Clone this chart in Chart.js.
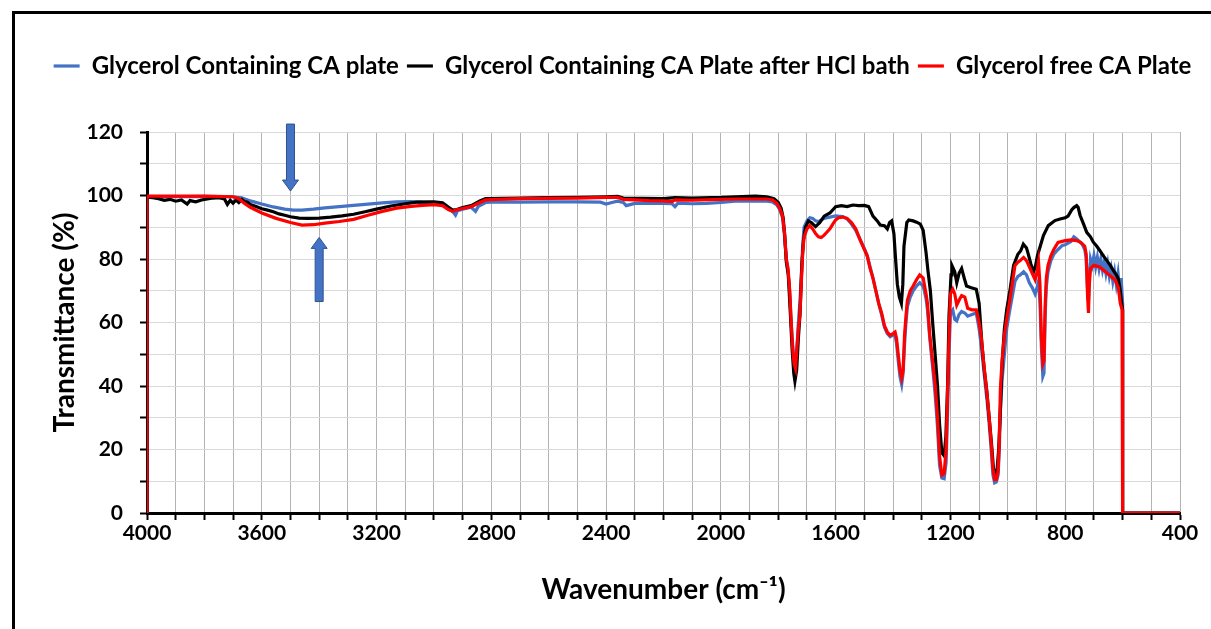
<!DOCTYPE html>
<html>
<head>
<meta charset="utf-8">
<script src="https://cdn.jsdelivr.net/npm/chart.js@4"></script>
<style>
  html, body { margin: 0; padding: 0; background: #fff; overflow: hidden; }
  #frame { position: absolute; left: 12px; top: 11px; width: 1400px; height: 800px; border: 3px solid #000; }
  #chart { position: absolute; left: 0; top: 0; }
</style>
</head>
<body>
<div id="frame"></div>
<canvas id="chart" width="1211" height="629"></canvas>
<script>
// series labels
var seriesNames = ['Glycerol Containing CA plate', 'Glycerol Containing CA Plate after HCl bath', 'Glycerol free CA Plate'];

// Glycerol containing CA plate (blue)
var glycerolWn = [4000, 4000, 3900, 3800, 3700, 3670, 3640, 3600, 3560, 3520, 3490, 3460, 3420, 3380, 3330, 3280, 3230, 3180, 3130, 3080, 3040, 3000, 2970, 2950, 2935, 2925, 2918, 2900, 2870, 2855, 2845, 2820, 2780, 2700, 2600, 2500, 2420, 2400, 2380, 2360, 2340, 2330, 2300, 2250, 2200, 2170, 2160, 2150, 2100, 2050, 2000, 1950, 1880, 1840, 1820, 1805, 1795, 1785, 1778, 1772, 1766, 1760, 1755, 1750, 1745, 1740, 1735, 1730, 1725, 1720, 1715, 1710, 1700, 1690, 1680, 1670, 1660, 1650, 1640, 1630, 1620, 1600, 1590, 1575, 1560, 1545, 1530, 1515, 1500, 1490, 1480, 1470, 1460, 1450, 1440, 1430, 1420, 1410, 1400, 1393, 1388, 1382, 1376, 1370, 1365, 1360, 1355, 1350, 1340, 1330, 1318, 1307, 1295, 1285, 1280, 1272, 1260, 1253, 1245, 1238, 1230, 1222, 1215, 1210, 1205, 1200, 1192, 1185, 1178, 1170, 1161, 1150, 1140, 1125, 1110, 1100, 1092, 1085, 1078, 1072, 1065, 1058, 1052, 1046, 1040, 1034, 1030, 1026, 1020, 1012, 1004, 995, 985, 975, 965, 957, 945, 935, 925, 915, 905, 898, 893, 888, 883, 878, 874, 870, 866, 860, 850, 840, 825, 810, 800, 790, 780, 770, 760, 750, 740, 732, 727, 722, 719, 716, 712, 706, 700, 694, 688, 682, 676, 670, 664, 658, 652, 646, 640, 634, 628, 622, 616, 610, 605, 600, 600, 400];
var glycerolT = [0, 99.6, 99.6, 99.7, 99.6, 99.3, 98.3, 97.3, 96.4, 95.7, 95.4, 95.4, 95.7, 96.1, 96.5, 96.9, 97.3, 97.7, 98, 98.1, 97.9, 97.8, 97.4, 96, 95, 93.8, 95.2, 95.7, 96.3, 95, 96.6, 97.8, 98, 97.9, 98, 98, 97.9, 97.3, 97.8, 98.2, 97.8, 96.8, 97.5, 97.6, 97.5, 97.4, 96.5, 97.6, 97.4, 97.5, 97.8, 98.2, 98.3, 98.2, 98, 97, 95.5, 93, 87, 80, 76, 69, 60, 53, 48, 46, 52, 60, 66, 74, 84, 90, 92, 93, 92.8, 92, 91.8, 92.3, 92.8, 93, 93.2, 93.6, 93.5, 93.4, 92.6, 91, 89, 86.2, 83.3, 81, 77.5, 74, 70, 66, 62.5, 58.5, 56.5, 55.5, 56, 56, 53.5, 48, 43, 40.5, 44, 53, 60, 65, 68, 70, 71.5, 72.5, 71.5, 67.5, 64, 55, 44, 37, 27, 15, 11, 10.8, 16, 32, 50, 63, 64, 61, 60.5, 62.5, 63.5, 63, 62, 62.5, 63, 58, 52, 46, 40, 35, 28, 20, 12, 9.5, 9.8, 12, 19, 32, 42, 50, 58, 63, 68, 73, 74.5, 75, 76, 75, 72.5, 71, 69, 71, 73, 66, 52, 43, 44, 62, 71, 76, 79.5, 81.5, 83, 84.3, 84.5, 85, 85.5, 87, 86.3, 85.5, 84.5, 83, 80.5, 70, 67, 74, 80, 78, 81, 77.5, 80.5, 77, 80, 76.5, 79, 75.5, 78.5, 74.5, 77, 73, 76, 72, 75.5, 70, 74, 66, 0, 0];

// Glycerol containing CA plate after HCl bath (black)
var hclWn = [4000, 4000, 3980, 3960, 3940, 3920, 3900, 3880, 3860, 3850, 3830, 3810, 3790, 3770, 3750, 3730, 3720, 3710, 3700, 3690, 3680, 3670, 3660, 3650, 3640, 3620, 3600, 3580, 3560, 3540, 3520, 3500, 3470, 3440, 3400, 3360, 3320, 3280, 3240, 3200, 3150, 3100, 3060, 3000, 2970, 2950, 2935, 2920, 2900, 2870, 2840, 2820, 2700, 2600, 2500, 2400, 2360, 2340, 2200, 2160, 2100, 2000, 1950, 1880, 1840, 1815, 1800, 1790, 1783, 1778, 1772, 1765, 1758, 1752, 1746, 1742, 1736, 1730, 1724, 1718, 1712, 1705, 1695, 1685, 1670, 1655, 1640, 1620, 1600, 1580, 1560, 1540, 1520, 1500, 1485, 1470, 1455, 1445, 1430, 1420, 1412, 1405, 1397, 1392, 1385, 1378, 1371, 1366, 1362, 1352, 1345, 1330, 1318, 1305, 1295, 1285, 1278, 1270, 1262, 1253, 1245, 1238, 1230, 1222, 1216, 1210, 1205, 1198, 1195, 1185, 1178, 1170, 1161, 1152, 1144, 1130, 1110, 1100, 1091, 1082, 1074, 1066, 1057, 1050, 1045, 1038, 1032, 1027, 1020, 1012, 1004, 992, 980, 965, 955, 946, 935, 929, 920, 911, 903, 897, 892, 876, 859, 836, 818, 800, 790, 777, 770, 760, 755, 748, 736, 725, 712, 702, 690, 679, 667, 655, 643, 632, 622, 615, 608, 603, 600, 600, 400];
var hclT = [0, 99.5, 99.3, 99, 98.5, 98.8, 98.2, 98.6, 97.3, 98.4, 98, 98.6, 98.9, 99.2, 99.3, 98.9, 97.2, 98.5, 97.6, 98.6, 97.8, 98.8, 98.1, 97.9, 97.2, 96.5, 95.8, 95.4, 94.9, 94.2, 93.8, 93.3, 92.9, 92.8, 92.9, 93.2, 93.6, 94.1, 94.9, 95.7, 96.7, 97.4, 97.9, 98, 97.7, 96.4, 95.4, 95.6, 96.2, 96.8, 98.3, 99, 99.2, 99.3, 99.4, 99.6, 99.7, 99.2, 99, 99.3, 99.2, 99.4, 99.6, 99.8, 99.6, 99, 97.8, 96, 93, 88, 79, 75, 63, 52, 44, 41.5, 45, 55, 63, 78, 86, 90, 92, 91.5, 90.2, 91.5, 93.5, 94.5, 96.5, 96.8, 96.5, 97, 96.8, 96.9, 96.5, 93.5, 92, 90.7, 90.5, 89.5, 91.5, 92, 88, 81, 72, 68, 66, 72, 84, 91.5, 92.3, 92, 91.6, 91, 89, 82, 76, 70, 60, 49.5, 40, 28, 19, 18, 24, 40, 62, 75, 78, 76, 72.5, 75.5, 77, 74, 71.5, 71, 70.5, 66, 54, 45, 39, 31, 22, 14, 12.5, 13, 20, 30, 47, 58, 64, 70.5, 78, 81.5, 82.6, 84.7, 83.5, 81.6, 78.5, 75.8, 78, 81, 82.5, 87.4, 90.5, 92.1, 92.6, 93, 93.5, 95.5, 96.2, 96.8, 96.3, 93.7, 91, 88.4, 87, 85.3, 84, 82.6, 81, 79.5, 78, 76.3, 75, 73.7, 70, 65.8, 64, 0, 0];

// Glycerol free CA plate (red)
var freeWn = [4000, 4000, 3900, 3800, 3700, 3680, 3660, 3640, 3600, 3550, 3500, 3460, 3420, 3380, 3330, 3280, 3230, 3180, 3130, 3080, 3040, 3000, 2970, 2950, 2935, 2920, 2900, 2870, 2840, 2820, 2780, 2700, 2600, 2500, 2400, 2360, 2340, 2300, 2250, 2200, 2170, 2160, 2100, 2000, 1950, 1880, 1840, 1820, 1805, 1795, 1785, 1778, 1772, 1766, 1760, 1755, 1750, 1745, 1740, 1735, 1730, 1725, 1720, 1715, 1710, 1700, 1690, 1680, 1670, 1660, 1650, 1640, 1630, 1620, 1610, 1600, 1590, 1575, 1560, 1545, 1530, 1515, 1500, 1490, 1480, 1470, 1460, 1450, 1440, 1430, 1420, 1410, 1400, 1393, 1388, 1382, 1376, 1370, 1365, 1360, 1355, 1350, 1340, 1330, 1318, 1307, 1295, 1285, 1280, 1272, 1260, 1253, 1245, 1238, 1230, 1222, 1215, 1210, 1205, 1200, 1192, 1185, 1178, 1170, 1161, 1150, 1140, 1125, 1110, 1100, 1092, 1085, 1078, 1072, 1065, 1058, 1052, 1046, 1040, 1034, 1030, 1026, 1020, 1012, 1004, 995, 985, 975, 965, 957, 945, 935, 925, 915, 905, 898, 893, 888, 883, 878, 874, 870, 866, 860, 850, 840, 825, 800, 780, 760, 745, 732, 727, 722, 719, 716, 712, 700, 680, 660, 640, 625, 615, 608, 602, 600, 600, 400];
var freeT = [0, 99.8, 99.8, 99.8, 99.6, 99, 97.5, 96.3, 94.5, 92.8, 91.5, 90.7, 90.8, 91.3, 91.8, 92.5, 93.8, 95, 96, 96.6, 96.9, 97.1, 96.8, 95.6, 95, 95.5, 95.9, 96.5, 97.8, 98.6, 98.8, 99, 99.1, 99.2, 99.4, 99.4, 98.8, 98.6, 98.4, 98.3, 98.1, 98.6, 98.5, 98.8, 98.9, 98.9, 98.9, 98.6, 97.5, 96, 93.5, 88, 80, 77, 70, 60, 52, 47, 45.5, 52, 58, 62, 72, 82, 87, 89.5, 90.5, 89.5, 88, 87, 86.8, 87.5, 88.5, 89.5, 91, 92.3, 93, 93.2, 92.8, 91.5, 89.5, 86, 83, 81, 77, 74, 70, 66, 63, 59, 57, 56, 56.5, 57, 55, 50, 45, 42.5, 45, 56, 62, 67, 70, 71.5, 73.5, 75, 74, 69, 66, 56, 46, 40, 30, 18, 12, 12.5, 20, 38, 55, 69, 70.5, 69, 65.5, 67, 68.5, 68, 64.5, 64, 64, 60, 55, 48, 42, 37, 30, 22, 14, 10.5, 10.5, 13, 22, 39, 48, 56, 61, 66, 72, 78, 79, 79.5, 80.5, 79.5, 77.5, 75.5, 73.5, 76, 79, 72, 55, 47, 48, 65, 74, 78, 81, 83, 85.2, 85.8, 86, 85.8, 85.2, 84, 81.5, 68, 63, 72, 77, 78, 77.5, 76, 74.5, 73.3, 71, 66, 64, 63.5, 0, 0];

// axis ranges and label steps
var xRange = [400, 4000];
var yRange = [0, 120];
var xLabelStep = 400;
var yLabelStep = 20;

// the two blue arrows pointing at the O-H band (wavenumber, start %, tip %)
var arrowMarks = [
  { wn: 3500, from: 122.5, to: 101.4 },
  { wn: 3400, from: 66.6, to: 86.8 }
];

function toPoints(xs, ys) {
  return xs.map(function(x, i) { return { x: x, y: ys[i] }; });
}

var arrowPlugin = {
  id: 'arrows',
  afterDatasetsDraw: function(chart) {
    var ctx = chart.ctx;
    var xs = chart.scales.x, ys = chart.scales.y;
    ctx.save();
    ctx.fillStyle = '#4472C4';
    ctx.strokeStyle = '#2F528F';
    ctx.lineWidth = 1;
    arrowMarks.forEach(function(a) {
      var x = xs.getPixelForValue(a.wn);
      var y0 = ys.getPixelForValue(a.from);
      var y1 = ys.getPixelForValue(a.to);
      var dir = y1 > y0 ? 1 : -1;
      var shaft = 4, head = 8, headLen = 11;
      var yb = y1 - dir * headLen;
      ctx.beginPath();
      ctx.moveTo(x - shaft, y0);
      ctx.lineTo(x + shaft, y0);
      ctx.lineTo(x + shaft, yb);
      ctx.lineTo(x + head, yb);
      ctx.lineTo(x, y1);
      ctx.lineTo(x - head, yb);
      ctx.lineTo(x - shaft, yb);
      ctx.closePath();
      ctx.fill();
      ctx.stroke();
    });
    ctx.restore();
  }
};

Chart.defaults.font.family = 'Lato, "Liberation Sans", sans-serif';
Chart.defaults.font.weight = 'bold';
Chart.defaults.color = '#000';

new Chart(document.getElementById('chart').getContext('2d'), {
  type: 'line',
  data: {
    datasets: [
      { label: seriesNames[0], data: toPoints(glycerolWn, glycerolT), borderColor: '#4472C4', backgroundColor: '#4472C4', borderWidth: 3.2, order: 2 },
      { label: seriesNames[1], data: toPoints(hclWn, hclT), borderColor: '#000000', backgroundColor: '#000000', borderWidth: 3.2, order: 1 },
      { label: seriesNames[2], data: toPoints(freeWn, freeT), borderColor: '#FF0000', backgroundColor: '#FF0000', borderWidth: 3.2, order: 0 }
    ]
  },
  options: {
    responsive: false,
    animation: false,
    elements: {
      line: { tension: 0 },
      point: { radius: 0 }
    },
    layout: { padding: { left: 40, right: 6, top: 46, bottom: 0 } },
    scales: {
      x: {
        type: 'linear',
        reverse: true,
        min: xRange[0],
        max: xRange[1],
        afterFit: function(scale) { scale.height = 116; },
        border: { color: '#000', width: 3 },
        grid: { color: '#b3b3b3', lineWidth: 1, tickColor: '#000', tickLength: 7, tickWidth: 2 },
        ticks: {
          stepSize: 100,
          autoSkip: false,
          maxRotation: 0,
          padding: 1,
          font: { size: 21 },
          callback: function(value) { return value % xLabelStep === 0 ? value : ''; }
        },
        title: { display: true, text: 'Wavenumber (cm⁻¹)', font: { size: 28 }, padding: { bottom: 22 } }
      },
      y: {
        min: yRange[0],
        max: yRange[1],
        afterFit: function(scale) { scale.width = 107; },
        border: { color: '#000', width: 3 },
        grid: { color: '#d9d9d9', lineWidth: 1, tickColor: '#000', tickLength: 7, tickWidth: 2 },
        ticks: {
          stepSize: 10,
          padding: 17,
          font: { size: 21 },
          callback: function(value) { return value % yLabelStep === 0 ? value : ''; }
        },
        title: { display: true, text: 'Transmittance (%)', font: { size: 28 }, padding: { top: 8 } }
      },
      yRight: {
        position: 'right',
        display: true,
        afterFit: function(scale) { scale.width = 25; },
        grid: { display: false },
        border: { display: false },
        ticks: { display: false }
      }
    },
    plugins: {
      legend: {
        position: 'top',
        weight: 3000,
        labels: {
          usePointStyle: true,
          pointStyle: 'line',
          pointStyleWidth: 26,
          padding: 8,
          font: { size: 24 },
          sort: function(a, b) { return a.datasetIndex - b.datasetIndex; }
        }
      },
      title: {
        display: true,
        text: ' ',
        weight: 2000,
        font: { size: 10 },
        padding: { top: 0, bottom: 32 }
      },
      tooltip: { enabled: false }
    }
  },
  plugins: [arrowPlugin]
});
</script>
</body>
</html>
